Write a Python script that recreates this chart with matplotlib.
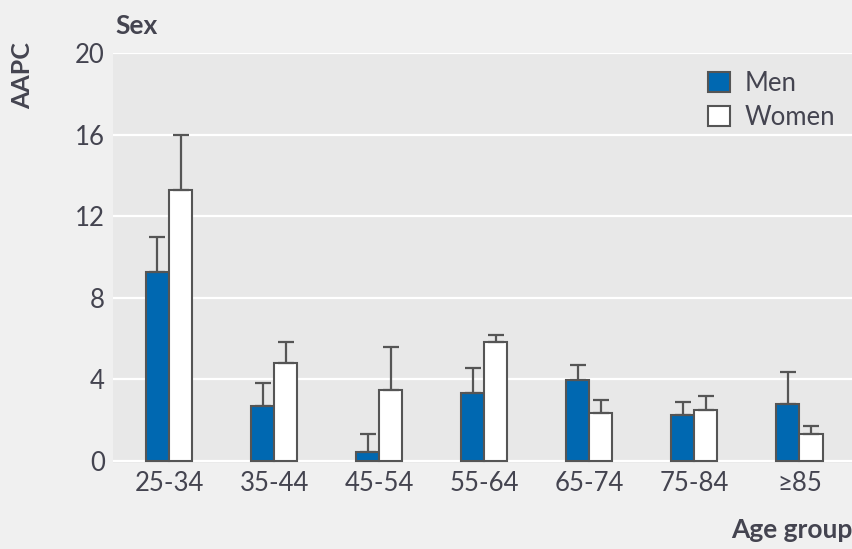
import numpy as np
import matplotlib.pyplot as plt
from matplotlib.patches import Patch

# values
age_groups = ['25-34', '35-44', '45-54', '55-64', '65-74', '75-84', '≥85']
men = [9.26, 2.7, 0.44, 3.33, 3.97, 2.25, 2.8]
men_upper = [10.98, 3.82, 1.3, 4.56, 4.7, 2.9, 4.36]
women = [13.28, 4.8, 3.5, 5.83, 2.35, 2.5, 1.32]
women_upper = [16.0, 5.83, 5.6, 6.18, 3.0, 3.2, 1.72]

blue = '#0068b1'
edge = '#555555'
text_col = '#444450'

plt.rcParams['font.family'] = ['Lato', 'DejaVu Sans']

fig = plt.figure(figsize=(8.53, 5.49), dpi=100)
fig.patch.set_facecolor('#f0f0f0')
ax = fig.add_axes([0.1325, 0.1566, 0.8675, 0.747])
ax.set_facecolor('#e8e8e8')

x = np.arange(len(age_groups))
w = 0.22

men_err = [np.zeros(len(men)), np.array(men_upper) - np.array(men)]
women_err = [np.zeros(len(women)), np.array(women_upper) - np.array(women)]

ekw = dict(ecolor=edge, elinewidth=1.6, capsize=6, capthick=1.6)
ax.bar(x - w / 2, men, w, color=blue, edgecolor=edge, linewidth=1.5,
       yerr=men_err, error_kw=ekw, zorder=3)
ax.bar(x + w / 2, women, w, color='white', edgecolor=edge, linewidth=1.5,
       yerr=women_err, error_kw=ekw, zorder=3)

ax.set_ylim(-0.1, 20)
ax.set_xlim(-0.533, 6.51)
ax.set_yticks([0, 4, 8, 12, 16, 20])
ax.set_xticks(x)
ax.set_xticklabels(age_groups)
ax.yaxis.grid(True, color='white', linewidth=1.6, zorder=0)
ax.set_axisbelow(True)
for s in ax.spines.values():
    s.set_visible(False)
ax.tick_params(length=0, labelsize=18.5, colors=text_col, pad=6)

fig.text(0.135, 0.953, 'Sex', fontsize=19, fontweight='bold', color=text_col,
         ha='left', va='center')
fig.text(0.026, 0.862, 'AAPC', fontsize=18, fontweight='bold', color=text_col,
         rotation=90, ha='center', va='center')
fig.text(0.999, 0.035, 'Age group', fontsize=19, fontweight='bold', color=text_col,
         ha='right', va='center')

handles = [Patch(facecolor=blue, edgecolor=edge, linewidth=1.5, label='Men'),
           Patch(facecolor='white', edgecolor=edge, linewidth=1.5, label='Women')]
ax.legend(handles=handles, loc='upper right', frameon=False, fontsize=18.5,
          labelcolor=text_col, handlelength=0.85, handleheight=0.85,
          handletextpad=0.55, labelspacing=0.35, borderaxespad=0.3,
          bbox_to_anchor=(1.0, 1.0))

fig.savefig('out.png', dpi=100, facecolor=fig.get_facecolor())
